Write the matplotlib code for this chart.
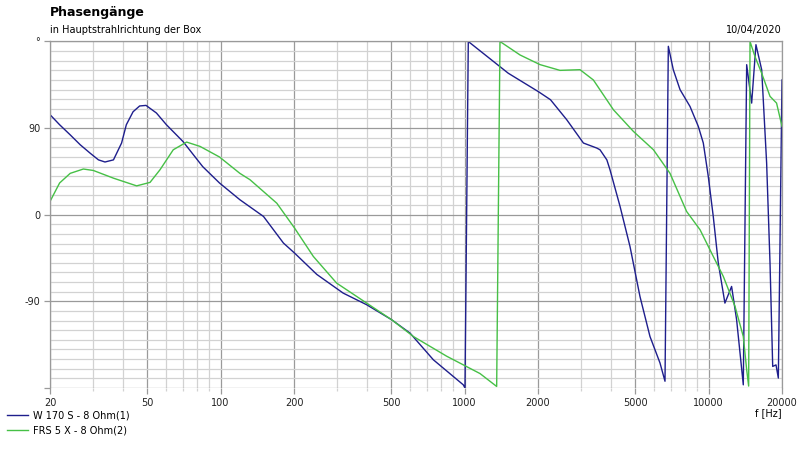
import matplotlib.pyplot as plt
from matplotlib.ticker import FixedLocator, NullFormatter

# W 170 S - 8 Ohm(1)
w170_freq = [20, 21.9, 24.2, 26.6, 29.2, 31.6, 33.6, 36.4, 39.3, 41.1, 43.8, 46.6, 49.5,
             54.6, 60, 70.2, 84.5, 99, 120, 150, 181, 201, 248, 318, 397, 502, 598, 745,
             988, 1004, 1036, 1511, 2004, 2250, 2623, 3070, 3482, 3590, 3830, 3945, 4339,
             4765, 5236, 5754, 6324, 6630, 6842, 7169, 7640, 8395, 9078, 9517, 9975, 10455,
             10960, 11670, 12430, 13030, 13880, 14330, 15020, 15640, 16510, 17300, 17860,
             18320, 18900, 19320, 20000]
w170_phase = [104, 93.5, 83, 72.7, 64, 57, 54.8, 57, 74.5, 93.5, 107, 113, 113.6,
              105.7, 93.5, 76, 50, 33, 15.6, -1.8, -29.4, -39.8, -62, -81.4, -93.5, -109, -123, -150.7,
              -176.7, -180, 180, 147, 128, 119.5, 98.7, 74.5, 69.3, 67.5, 57, 46.8, 8.6,
              -33, -85, -126.5, -154, -173, 175, 150.7, 130, 112.5, 91.8, 74.5, 39.8, -1.8,
              -50, -91.8, -74.5, -109, -176.7, 155.9, 116, 176.7, 150.7, 53.7, -50,
              -157.6, -156, -169.7, 140]

# FRS 5 X - 8 Ohm(2)
frs5_freq = [20, 21.9, 24.2, 27.4, 30.1, 36.4, 45.3, 51.4, 56.5, 64, 72.6, 82.4, 99, 120,
             132, 170, 201, 240, 299, 397, 502, 617, 845, 1157, 1354, 1397, 1688, 2037,
             2461, 2973, 3373, 4077, 4920, 5945, 6951, 8130, 9229, 10455, 11490, 12830,
             13880, 14330, 14600, 14790, 15490, 16510, 17860, 19000, 20000]
frs5_phase = [13.8, 33, 43, 47.5, 46, 38, 30, 33.6, 46.8, 67.5, 75.5, 71, 60, 43,
              36.4, 12, -13.8, -43.3, -71, -91.8, -109, -126.5, -147, -165, -178.4, 180, 166, 156,
              150, 150.7, 140, 109, 86.6, 67.5, 43, 3.4, -15.6, -43.3, -64, -95,
              -126.5, -161, -178, 180, 164.5, 147, 123, 116, 91.8]

major_x = [20, 50, 100, 200, 500, 1000, 2000, 5000, 10000, 20000]
minor_x = [30, 40, 60, 70, 80, 90, 300, 400, 600, 700, 800, 900,
           3000, 4000, 6000, 7000, 8000, 9000]
major_y = [-180, -90, 0, 90, 180]
y_labels = ['', '-90', '0', '90', '°']

plt.rcParams['font.family'] = ['DejaVu Sans']

fig = plt.figure(figsize=(8, 4.5), dpi=100)
ax = fig.add_axes([0.0625, 0.1378, 0.915, 0.77])

ax.set_xscale('log')
ax.set_xlim(20, 20000)
ax.set_ylim(-180, 180)

ax.xaxis.set_major_locator(FixedLocator(major_x))
ax.xaxis.set_minor_locator(FixedLocator(minor_x))
ax.set_xticklabels([str(v) for v in major_x])
ax.xaxis.set_minor_formatter(NullFormatter())
ax.yaxis.set_major_locator(FixedLocator(major_y))
ax.yaxis.set_minor_locator(FixedLocator(list(range(-170, 180, 10))))
ax.set_yticklabels(y_labels)

ax.grid(which='major', color='#9a9a9a', linewidth=0.9)
ax.grid(which='minor', color='#d2d2d2', linewidth=0.9)
ax.set_axisbelow(True)

ax.tick_params(axis='both', which='major', labelsize=7, length=4, width=0.9,
               color='#9a9a9a', labelcolor='#222222', pad=3)
ax.tick_params(axis='x', which='minor', length=2, width=0.9, color='#d2d2d2')
ax.tick_params(axis='y', which='minor', length=0)

for side in ['left', 'top', 'right']:
    ax.spines[side].set_color('#9a9a9a')
    ax.spines[side].set_linewidth(0.9)
ax.spines['bottom'].set_visible(False)

ax.plot(w170_freq, w170_phase, color='#1e1e8c', linewidth=1.0, label='W 170 S - 8 Ohm(1)')
ax.plot(frs5_freq, frs5_phase, color='#46c046', linewidth=1.0, label='FRS 5 X - 8 Ohm(2)')

fig.text(0.0625, 0.972, 'Phasengänge', fontsize=9, fontweight='bold', va='center', ha='left')
fig.text(0.0625, 0.933, 'in Hauptstrahlrichtung der Box', fontsize=7, va='center', ha='left')
fig.text(0.9775, 0.933, '10/04/2020', fontsize=7, va='center', ha='right')
fig.text(0.9775, 0.082, 'f [Hz]', fontsize=7, va='center', ha='right')

fig.legend(loc='lower left', bbox_to_anchor=(0.0, 0.018), frameon=False, fontsize=7,
           handlelength=2.2, handletextpad=0.5, labelspacing=0.5, borderaxespad=0.3)

fig.savefig('out.png', dpi=100)
